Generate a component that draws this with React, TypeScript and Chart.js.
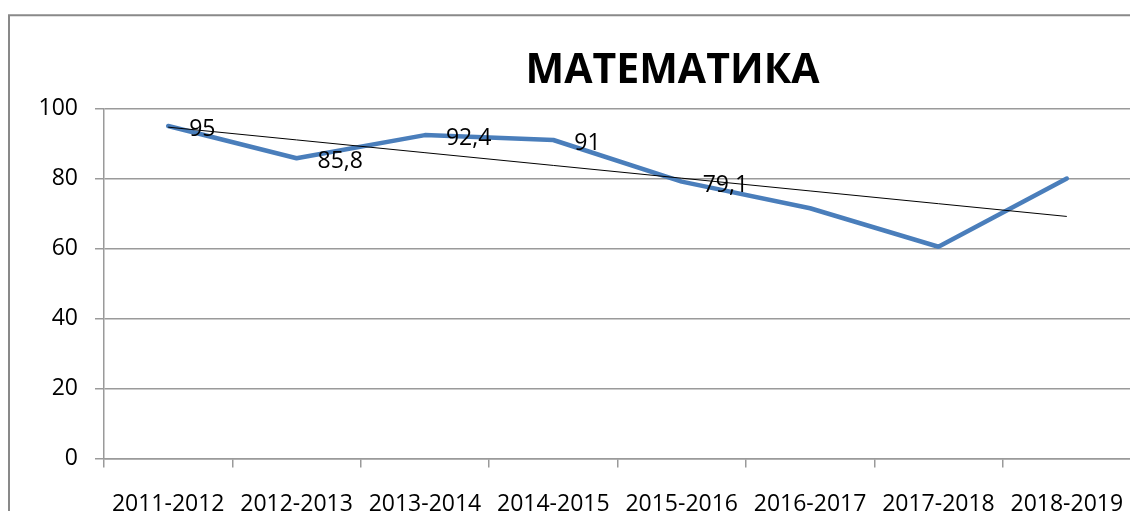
import { useEffect, useRef } from "react";
import { Chart, registerables } from "chart.js";

Chart.register(...registerables);

const TITLE = "МАТЕМАТИКА";
const categories = [
  "2011-2012",
  "2012-2013",
  "2013-2014",
  "2014-2015",
  "2015-2016",
  "2016-2017",
  "2017-2018",
  "2018-2019",
];
const values = [95, 85.8, 92.4, 91, 79.1, 71.5, 60.5, 80];
const valueLabels = ["95", "85,8", "92,4", "91", "79,1", "", "", ""];
const yMin = 0;
const yMax = 100;
const yStep = 20;

// linear trend line (least squares fit of the values, like Excel's trendline)
function linearTrend(ys: number[]): number[] {
  const n = ys.length;
  const xs = ys.map((_, i) => i + 1);
  const mx = xs.reduce((a, b) => a + b, 0) / n;
  const my = ys.reduce((a, b) => a + b, 0) / n;
  let sxy = 0;
  let sxx = 0;
  for (let i = 0; i < n; i++) {
    sxy += (xs[i] - mx) * (ys[i] - my);
    sxx += (xs[i] - mx) * (xs[i] - mx);
  }
  const b = sxy / sxx;
  return xs.map((x) => my + b * (x - mx));
}
const trend = linearTrend(values);

const FONT = '"Open Sans", "Liberation Sans", sans-serif';
const GRID = "#9a9a9a";
const LINE = "#4A7EBB";

const decorPlugin = {
  id: "decor",
  beforeDraw(chart: any) {
    const ctx = chart.ctx;
    ctx.save();
    ctx.strokeStyle = "#898989";
    ctx.lineWidth = 2;
    ctx.beginPath();
    ctx.moveTo(1, chart.height + 10);
    ctx.lineTo(1, 7.3);
    ctx.lineTo(chart.width + 10, 7.3);
    ctx.stroke();
    ctx.restore();
  },
  afterDatasetsDraw(chart: any) {
    const ctx = chart.ctx;
    const meta = chart.getDatasetMeta(0);
    ctx.save();
    ctx.fillStyle = "#000";
    ctx.font = `23px ${FONT}`;
    ctx.textAlign = "left";
    ctx.textBaseline = "alphabetic";
    meta.data.forEach((pt: any, i: number) => {
      const t = valueLabels[i];
      if (!t) return;
      ctx.fillText(t, pt.x + 21, pt.y + 10);
    });
    ctx.restore();
  },
  afterDraw(chart: any) {
    const ctx = chart.ctx;
    ctx.save();
    ctx.fillStyle = "#000";
    ctx.font = `bold 41px ${FONT}`;
    ctx.textAlign = "center";
    ctx.textBaseline = "alphabetic";
    ctx.fillText(TITLE, 664.5, 74.5);
    ctx.restore();
  },
};

export default function App() {
  const ref = useRef<HTMLCanvasElement | null>(null);
  useEffect(() => {
    let chart: Chart | null = null;
    let cancelled = false;
    const make = () => {
      if (cancelled || !ref.current) return;
      chart = new Chart(ref.current, {
        type: "line",
        data: {
          labels: categories,
          datasets: [
            {
              data: values,
              borderColor: LINE,
              borderWidth: 4.5,
              pointRadius: 0,
              tension: 0,
              borderJoinStyle: "round",
              borderCapStyle: "round",
              order: 1,
            },
            {
              data: trend,
              borderColor: "#000",
              borderWidth: 1,
              pointRadius: 0,
              tension: 0,
              order: 0,
            },
          ],
        },
        options: {
          responsive: false,
          animation: false,
          events: [],
          layout: { padding: { left: 0, top: 100.5, right: 17, bottom: 0 } },
          plugins: {
            legend: { display: false },
            tooltip: { enabled: false },
            title: { display: false },
          },
          scales: {
            x: {
              type: "category",
              offset: true,
              grid: {
                display: true,
                drawOnChartArea: false,
                drawTicks: true,
                tickLength: 9,
                color: GRID,
                lineWidth: 1.5,
                offset: true,
              },
              border: { display: true, color: GRID, width: 1.5 },
              ticks: {
                font: { family: FONT, size: 23 },
                color: "#000",
                padding: 23,
                maxRotation: 0,
                autoSkip: false,
              },
              afterFit: (s: any) => {
                s.height = 69.5;
              },
            },
            y: {
              min: yMin,
              max: yMax,
              ticks: {
                stepSize: yStep,
                font: { family: FONT, size: 23 },
                color: "#000",
                padding: 17,
              },
              grid: { color: GRID, lineWidth: 1.5, tickLength: 9 },
              border: { display: true, color: GRID, width: 1.5 },
              afterFit: (s: any) => {
                s.width = 96;
              },
            },
          },
        },
        plugins: [decorPlugin],
      });
    };
    if ((document as any).fonts && (document as any).fonts.load) {
      Promise.all([
        document.fonts.load(`23px "Open Sans"`),
        document.fonts.load(`bold 41px "Open Sans"`),
      ])
        .catch(() => null)
        .then(make);
    } else {
      make();
    }
    return () => {
      cancelled = true;
      if (chart) chart.destroy();
    };
  }, []);
  return (
    <div
      style={{
        position: "fixed",
        left: 8,
        top: 8,
        right: 0,
        bottom: 0,
        overflow: "hidden",
        background: "#fff",
      }}
    >
      <canvas ref={ref} width={1140} height={520} style={{ display: "block" }} />
    </div>
  );
}
